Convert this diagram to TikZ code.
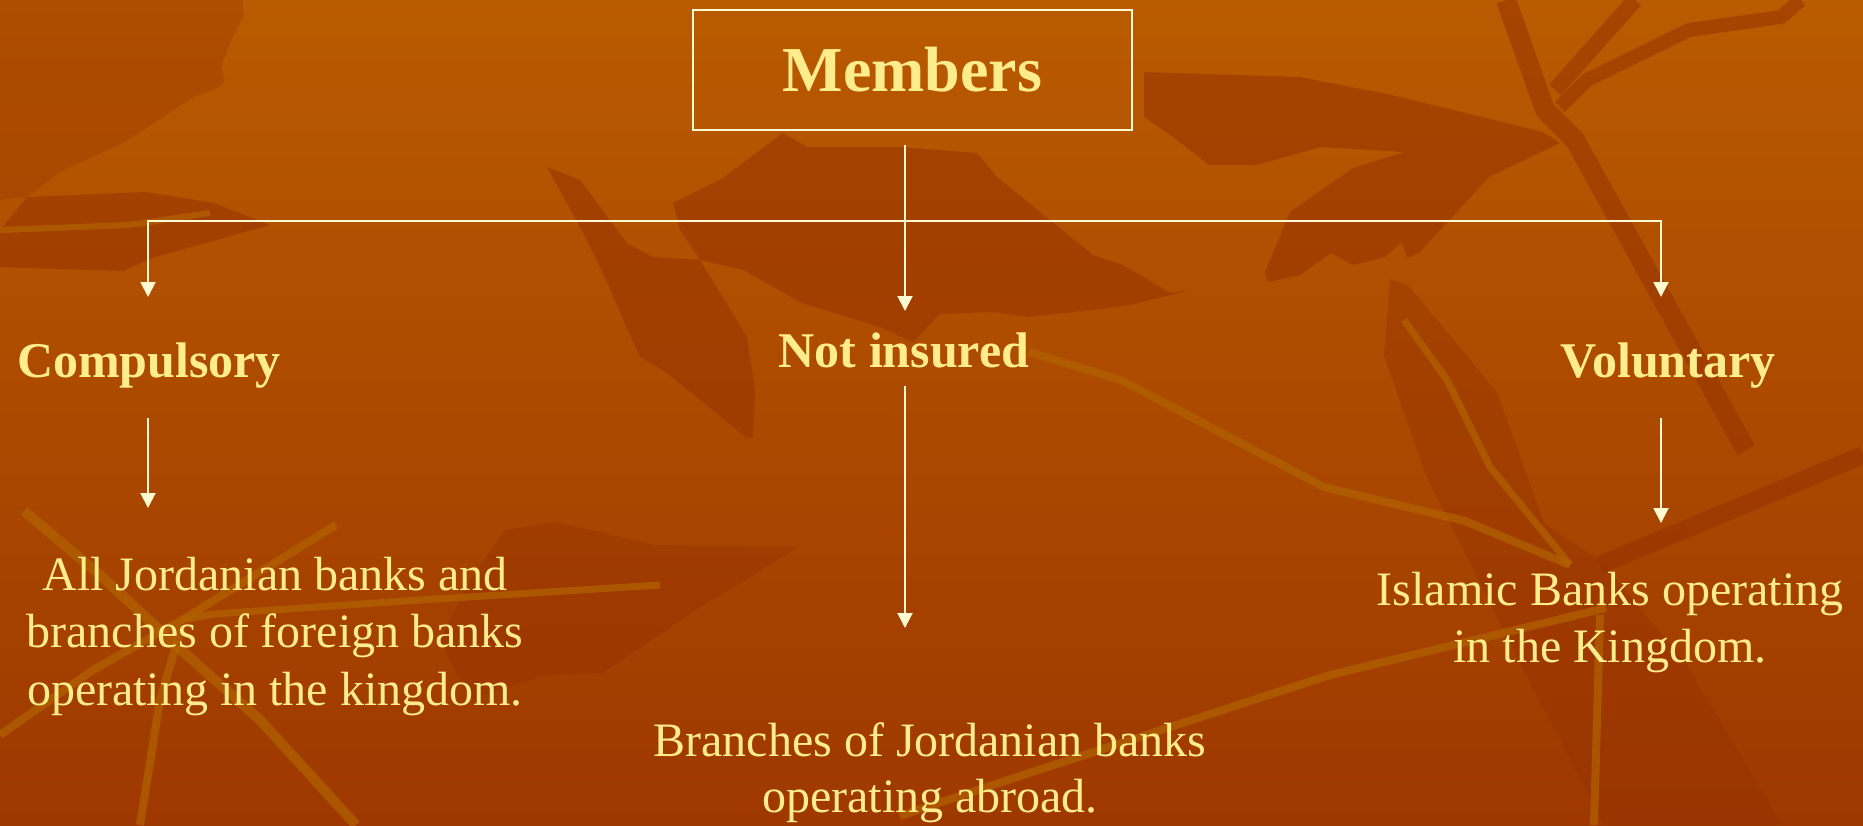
\documentclass[tikz,border=0pt]{standalone}
\usepackage{fontspec}
\setmainfont{Liberation Serif}
\usetikzlibrary{arrows.meta}
\definecolor{bgtop}{RGB}{185,91,0}
\definecolor{bgbot}{RGB}{158,56,0}
\definecolor{leafdark}{RGB}{148,48,0}
\definecolor{veincol}{RGB}{178,98,0}
\definecolor{txtcol}{RGB}{255,236,140}
\definecolor{linecol}{RGB}{255,250,210}
\begin{document}
\begin{tikzpicture}[x=1pt,y=-1pt,
  leaf/.style={fill=leafdark,fill opacity=0.5,draw=none},
  stem/.style={draw=leafdark,draw opacity=0.5,line width=#1,line join=round,line cap=butt},
  stem/.default=18pt,
  vein/.style={draw=veincol,draw opacity=0.7,line width=#1,line join=round,line cap=butt},
  vein/.default=8pt,
  membox/.style={draw=linecol,line width=2pt,minimum width=439pt,minimum height=120pt,inner sep=0pt,text=txtcol,font=\fontsize{64}{70}\selectfont\bfseries},
  lbl/.style={text=txtcol,inner sep=0pt,anchor=base,font=\fontsize{50}{60}\selectfont\bfseries},
  bodytxt/.style={text=txtcol,inner sep=0pt,anchor=base},
  arr/.style={draw=linecol,line width=2pt,-{Triangle[width=15pt,length=15pt]}}
]
\useasboundingbox (0,0) rectangle (1863,825);
% background
\shade[top color=bgtop,bottom color=bgbot] (0,0) rectangle (1863,825);
% dark leaves
\path[leaf,fill opacity=0.3] (0,0)--(243,0)--(243,17)--(230,43)--(221,67)--(225,80)--(219,87)--(192,98)--(125,142)--(60,172)--(27,197)--(0,200)--cycle;
\path[leaf] (27,197)--(145,192)--(214,203)--(270,225)--(152,258)--(123,271)--(0,267)--(0,230)--cycle;
\path[leaf] (783,133)--(807,147)--(900,147)--(977,153)--(997,177)--(1093,255)--(1123,265)--(1170,293)--(1190,290)--(1130,305)--(1093,310)--(1027,317)--(993,312)--(940,314)--(913,342)--(880,327)--(802,303)--(743,270)--(700,260)--(680,230)--(673,203)--(720,180)--cycle;
\path[leaf] (547,167)--(580,180)--(627,243)--(653,257)--(700,260)--(747,337)--(755,390)--(753,437)--(747,438)--(667,373)--(640,357)--(600,267)--(583,233)--cycle;
\path[leaf] (1144,117)--(1173,137)--(1209,165)--(1256,165)--(1321,147)--(1404,152)--(1353,168)--(1290,212)--(1265,272)--(1268,282)--(1300,275)--(1331,253)--(1353,265)--(1385,257)--(1402,242)--(1407,258)--(1419,253)--(1489,177)--(1560,143)--(1543,132)--(1392,95)--(1300,77)--(1144,72)--cycle;
\path[leaf,fill opacity=0.4] (1390,279)--(1408,285)--(1497,392)--(1544,523)--(1604,564)--(1687,665)--(1782,825)--(1604,825)--(1521,665)--(1426,475)--(1384,356)--cycle;
\path[leaf,fill opacity=0.4] (505,530)--(557,522)--(603,533)--(654,545)--(798,547)--(746,580)--(700,607)--(603,673)--(545,675)--(470,700)--(440,640)--(470,580)--cycle;
\draw[stem=20pt] (1506,0)--(1545,110)--(1575,140)--(1746,450);
\draw[stem=16pt] (1635,0)--(1555,90);
\draw[stem=14pt] (1801,0)--(1781,17)--(1689,30)--(1587,80)--(1560,107);
\draw[stem=18pt] (1600,565)--(1863,455);
% golden veins
\draw[vein=6pt] (0,230)--(129,225)--(210,213);
\draw[vein] (1029,352)--(1121,380)--(1324,487)--(1465,521)--(1570,565);
\draw[vein=7pt] (1404,320)--(1447,380)--(1490,467)--(1570,565);
\draw[vein] (1606,608)--(1330,675)--(1023,775)--(900,816);
\draw[vein] (1600,615)--(1594,825);
\draw[vein=10pt] (24,511)--(100,575)--(179,648)--(260,720)--(356,825);
\draw[vein] (336,525)--(182,620)--(93,670)--(0,735);
\draw[vein=7pt] (660,585)--(420,600)--(214,614)--(182,620);
\draw[vein] (182,625)--(160,700)--(140,825);
% diagram
\node[membox] (members) at (912.5,70) {Members};
\node[lbl] (comp) at (149,377) {Compulsory};
\node[lbl] (notins) at (904,367) {Not insured};
\node[lbl] (vol) at (1668,377) {Voluntary};
\node[bodytxt,font=\fontsize{48}{57.5}\selectfont] (compb) at (275,590) {\begin{tabular}[t]{@{}c@{}}All Jordanian banks and\\branches of foreign banks\\operating in the kingdom.\end{tabular}};
\node[bodytxt,font=\fontsize{48}{57}\selectfont] (volb) at (1610,605) {\begin{tabular}[t]{@{}c@{}}Islamic Banks operating\\in the Kingdom.\end{tabular}};
\node[bodytxt,font=\fontsize{48}{56}\selectfont] (notinsb) at (930,756) {\begin{tabular}[t]{@{}c@{}}Branches of Jordanian banks\\operating abroad.\end{tabular}};
\coordinate (mtop) at (905,145);
\coordinate (hub) at (905,221);
\coordinate (tipL) at (148,297);
\coordinate (tipM) at (905,311);
\coordinate (tipR) at (1661,297);
\coordinate (cA) at (148,418);
\coordinate (cB) at (148,508);
\coordinate (nA) at (905,386);
\coordinate (nB) at (905,628);
\coordinate (vA) at (1661,418);
\coordinate (vB) at (1661,523);
\draw[arr] (mtop) -- (tipM);
\draw[arr] (hub) -| (tipL);
\draw[arr] (hub) -| (tipR);
\draw[arr] (cA) -- (cB);
\draw[arr] (nA) -- (nB);
\draw[arr] (vA) -- (vB);
\end{tikzpicture}
\end{document}
